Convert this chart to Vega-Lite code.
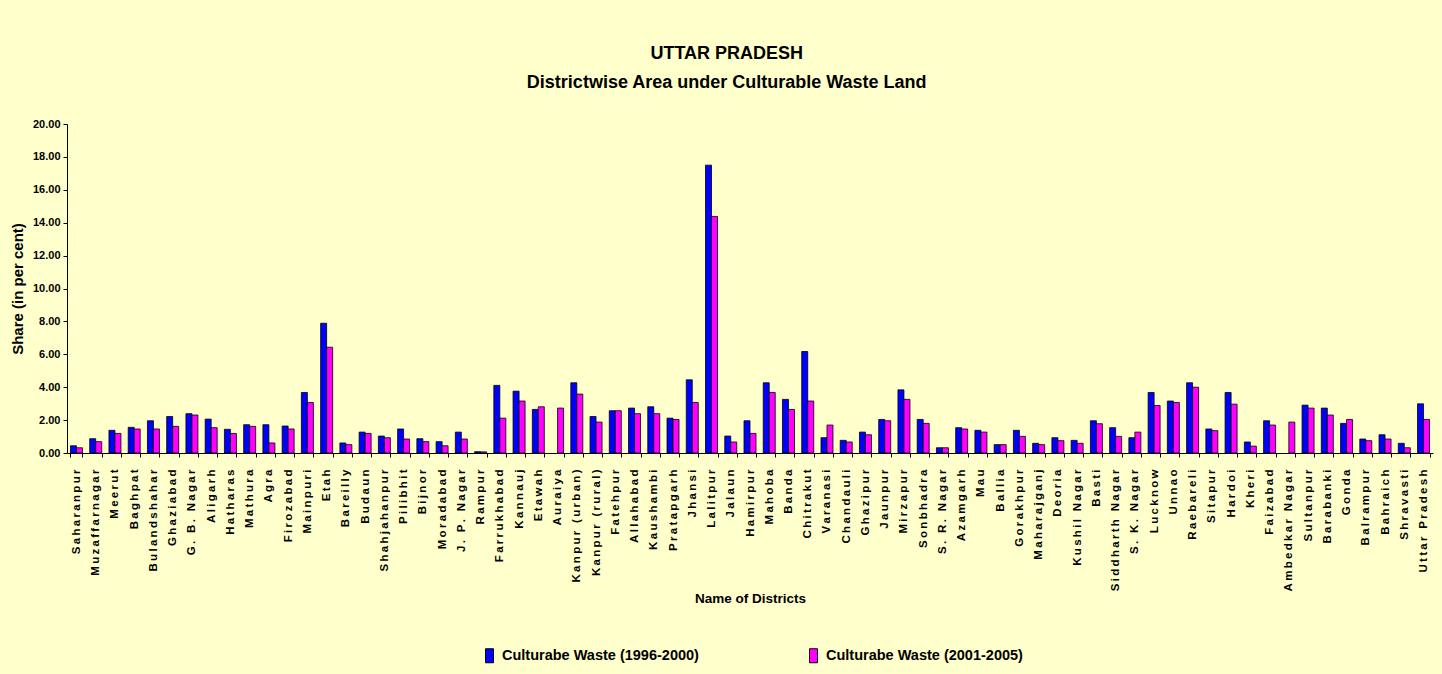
{
  "$schema": "https://vega.github.io/schema/vega-lite/v6.json",
  "width": 1366,
  "height": 329,
  "autosize": {"type": "none"},
  "padding": {"left": 67, "top": 124, "right": 9, "bottom": 221},
  "background": "#FFFFCC",
  "title": {
    "text": ["UTTAR PRADESH", "Districtwise Area under Culturable Waste Land"],
    "font": "Liberation Sans, Arial, sans-serif",
    "fontSize": 18,
    "fontWeight": "bold",
    "color": "#000000",
    "lineHeight": 29,
    "anchor": "middle",
    "frame": "bounds",
    "dx": 5,
    "offset": 26
  },
  "data": {
    "values": [
      {"District": "Saharanpur", "Culturabe Waste (1996-2000)": 0.44, "Culturabe Waste (2001-2005)": 0.32},
      {"District": "Muzaffarnagar", "Culturabe Waste (1996-2000)": 0.87, "Culturabe Waste (2001-2005)": 0.69},
      {"District": "Meerut", "Culturabe Waste (1996-2000)": 1.38, "Culturabe Waste (2001-2005)": 1.19},
      {"District": "Baghpat", "Culturabe Waste (1996-2000)": 1.56, "Culturabe Waste (2001-2005)": 1.46},
      {"District": "Bulandshahar", "Culturabe Waste (1996-2000)": 1.96, "Culturabe Waste (2001-2005)": 1.46},
      {"District": "Ghaziabad", "Culturabe Waste (1996-2000)": 2.22, "Culturabe Waste (2001-2005)": 1.62},
      {"District": "G. B. Nagar", "Culturabe Waste (1996-2000)": 2.39, "Culturabe Waste (2001-2005)": 2.31},
      {"District": "Aligarh", "Culturabe Waste (1996-2000)": 2.06, "Culturabe Waste (2001-2005)": 1.54},
      {"District": "Hatharas", "Culturabe Waste (1996-2000)": 1.44, "Culturabe Waste (2001-2005)": 1.19},
      {"District": "Mathura", "Culturabe Waste (1996-2000)": 1.72, "Culturabe Waste (2001-2005)": 1.62},
      {"District": "Agra", "Culturabe Waste (1996-2000)": 1.72, "Culturabe Waste (2001-2005)": 0.61},
      {"District": "Firozabad", "Culturabe Waste (1996-2000)": 1.64, "Culturabe Waste (2001-2005)": 1.46},
      {"District": "Mainpuri", "Culturabe Waste (1996-2000)": 3.68, "Culturabe Waste (2001-2005)": 3.07},
      {"District": "Etah", "Culturabe Waste (1996-2000)": 7.89, "Culturabe Waste (2001-2005)": 6.43},
      {"District": "Bareilly", "Culturabe Waste (1996-2000)": 0.61, "Culturabe Waste (2001-2005)": 0.51},
      {"District": "Budaun", "Culturabe Waste (1996-2000)": 1.27, "Culturabe Waste (2001-2005)": 1.19},
      {"District": "Shahjahanpur", "Culturabe Waste (1996-2000)": 1.03, "Culturabe Waste (2001-2005)": 0.93},
      {"District": "Pilibhit", "Culturabe Waste (1996-2000)": 1.46, "Culturabe Waste (2001-2005)": 0.85},
      {"District": "Bijnor", "Culturabe Waste (1996-2000)": 0.87, "Culturabe Waste (2001-2005)": 0.69},
      {"District": "Moradabad", "Culturabe Waste (1996-2000)": 0.69, "Culturabe Waste (2001-2005)": 0.44},
      {"District": "J. P. Nagar", "Culturabe Waste (1996-2000)": 1.27, "Culturabe Waste (2001-2005)": 0.85},
      {"District": "Rampur", "Culturabe Waste (1996-2000)": 0.08, "Culturabe Waste (2001-2005)": 0.07},
      {"District": "Farrukhabad", "Culturabe Waste (1996-2000)": 4.11, "Culturabe Waste (2001-2005)": 2.12},
      {"District": "Kannauj", "Culturabe Waste (1996-2000)": 3.76, "Culturabe Waste (2001-2005)": 3.16},
      {"District": "Etawah", "Culturabe Waste (1996-2000)": 2.65, "Culturabe Waste (2001-2005)": 2.81},
      {"District": "Auraiya", "Culturabe Waste (1996-2000)": null, "Culturabe Waste (2001-2005)": 2.73},
      {"District": "Kanpur (urban)", "Culturabe Waste (1996-2000)": 4.27, "Culturabe Waste (2001-2005)": 3.58},
      {"District": "Kanpur (rural)", "Culturabe Waste (1996-2000)": 2.22, "Culturabe Waste (2001-2005)": 1.88},
      {"District": "Fatehpur", "Culturabe Waste (1996-2000)": 2.57, "Culturabe Waste (2001-2005)": 2.57},
      {"District": "Allahabad", "Culturabe Waste (1996-2000)": 2.73, "Culturabe Waste (2001-2005)": 2.39},
      {"District": "Kaushambi", "Culturabe Waste (1996-2000)": 2.81, "Culturabe Waste (2001-2005)": 2.39},
      {"District": "Pratapgarh", "Culturabe Waste (1996-2000)": 2.12, "Culturabe Waste (2001-2005)": 2.04},
      {"District": "Jhansi", "Culturabe Waste (1996-2000)": 4.45, "Culturabe Waste (2001-2005)": 3.07},
      {"District": "Lalitpur", "Culturabe Waste (1996-2000)": 17.5, "Culturabe Waste (2001-2005)": 14.38},
      {"District": "Jalaun", "Culturabe Waste (1996-2000)": 1.03, "Culturabe Waste (2001-2005)": 0.67},
      {"District": "Hamirpur", "Culturabe Waste (1996-2000)": 1.96, "Culturabe Waste (2001-2005)": 1.19},
      {"District": "Mahoba", "Culturabe Waste (1996-2000)": 4.27, "Culturabe Waste (2001-2005)": 3.68},
      {"District": "Banda", "Culturabe Waste (1996-2000)": 3.26, "Culturabe Waste (2001-2005)": 2.65},
      {"District": "Chitrakut", "Culturabe Waste (1996-2000)": 6.17, "Culturabe Waste (2001-2005)": 3.16},
      {"District": "Varanasi", "Culturabe Waste (1996-2000)": 0.93, "Culturabe Waste (2001-2005)": 1.7},
      {"District": "Chandauli", "Culturabe Waste (1996-2000)": 0.77, "Culturabe Waste (2001-2005)": 0.67},
      {"District": "Ghazipur", "Culturabe Waste (1996-2000)": 1.27, "Culturabe Waste (2001-2005)": 1.11},
      {"District": "Jaunpur", "Culturabe Waste (1996-2000)": 2.04, "Culturabe Waste (2001-2005)": 1.96},
      {"District": "Mirzapur", "Culturabe Waste (1996-2000)": 3.84, "Culturabe Waste (2001-2005)": 3.26},
      {"District": "Sonbhadra", "Culturabe Waste (1996-2000)": 2.04, "Culturabe Waste (2001-2005)": 1.8},
      {"District": "S. R. Nagar", "Culturabe Waste (1996-2000)": 0.32, "Culturabe Waste (2001-2005)": 0.32},
      {"District": "Azamgarh", "Culturabe Waste (1996-2000)": 1.54, "Culturabe Waste (2001-2005)": 1.46},
      {"District": "Mau", "Culturabe Waste (1996-2000)": 1.38, "Culturabe Waste (2001-2005)": 1.27},
      {"District": "Ballia", "Culturabe Waste (1996-2000)": 0.51, "Culturabe Waste (2001-2005)": 0.51},
      {"District": "Gorakhpur", "Culturabe Waste (1996-2000)": 1.38, "Culturabe Waste (2001-2005)": 1.01},
      {"District": "Maharajganj", "Culturabe Waste (1996-2000)": 0.59, "Culturabe Waste (2001-2005)": 0.51},
      {"District": "Deoria", "Culturabe Waste (1996-2000)": 0.93, "Culturabe Waste (2001-2005)": 0.75},
      {"District": "Kushil Nagar", "Culturabe Waste (1996-2000)": 0.77, "Culturabe Waste (2001-2005)": 0.59},
      {"District": "Basti", "Culturabe Waste (1996-2000)": 1.96, "Culturabe Waste (2001-2005)": 1.78},
      {"District": "Siddharth Nagar", "Culturabe Waste (1996-2000)": 1.54, "Culturabe Waste (2001-2005)": 1.01},
      {"District": "S. K. Nagar", "Culturabe Waste (1996-2000)": 0.93, "Culturabe Waste (2001-2005)": 1.27},
      {"District": "Lucknow", "Culturabe Waste (1996-2000)": 3.68, "Culturabe Waste (2001-2005)": 2.89},
      {"District": "Unnao", "Culturabe Waste (1996-2000)": 3.16, "Culturabe Waste (2001-2005)": 3.07},
      {"District": "Raebareli", "Culturabe Waste (1996-2000)": 4.27, "Culturabe Waste (2001-2005)": 4.0},
      {"District": "Sitapur", "Culturabe Waste (1996-2000)": 1.46, "Culturabe Waste (2001-2005)": 1.36},
      {"District": "Hardoi", "Culturabe Waste (1996-2000)": 3.68, "Culturabe Waste (2001-2005)": 2.97},
      {"District": "Kheri", "Culturabe Waste (1996-2000)": 0.67, "Culturabe Waste (2001-2005)": 0.42},
      {"District": "Faizabad", "Culturabe Waste (1996-2000)": 1.96, "Culturabe Waste (2001-2005)": 1.7},
      {"District": "Ambedkar Nagar", "Culturabe Waste (1996-2000)": null, "Culturabe Waste (2001-2005)": 1.88},
      {"District": "Sultanpur", "Culturabe Waste (1996-2000)": 2.91, "Culturabe Waste (2001-2005)": 2.73},
      {"District": "Barabanki", "Culturabe Waste (1996-2000)": 2.73, "Culturabe Waste (2001-2005)": 2.31},
      {"District": "Gonda", "Culturabe Waste (1996-2000)": 1.8, "Culturabe Waste (2001-2005)": 2.04},
      {"District": "Balrampur", "Culturabe Waste (1996-2000)": 0.85, "Culturabe Waste (2001-2005)": 0.75},
      {"District": "Bahraich", "Culturabe Waste (1996-2000)": 1.11, "Culturabe Waste (2001-2005)": 0.85},
      {"District": "Shravasti", "Culturabe Waste (1996-2000)": 0.59, "Culturabe Waste (2001-2005)": 0.32},
      {"District": "Uttar Pradesh", "Culturabe Waste (1996-2000)": 2.99, "Culturabe Waste (2001-2005)": 2.04}
    ]
  },
  "transform": [
    {"fold": ["Culturabe Waste (1996-2000)", "Culturabe Waste (2001-2005)"], "as": ["Series", "Share"]}
  ],
  "mark": {"type": "bar", "stroke": "#000000", "strokeWidth": 0.8},
  "encoding": {
    "x": {
      "field": "District",
      "type": "nominal",
      "sort": null,
      "scale": {"paddingInner": 0.376, "paddingOuter": 0.18},
      "axis": {
        "title": "Name of Districts",
        "titleFont": "Liberation Sans, Arial, sans-serif",
        "titleFontSize": 13.5,
        "titleFontWeight": "bold",
        "titleColor": "#000000",
        "titleY": 145,
        "titleBaseline": "middle",
        "labelAngle": -90,
        "labelAlign": "right",
        "labelBaseline": "middle",
        "labelPadding": 12,
        "labelFont": "Liberation Sans, Arial, sans-serif",
        "labelFontSize": 11.5,
        "labelFontWeight": "bold",
        "labelColor": "#000000",
        "labelLimit": 0,
        "labelOverlap": false,
        "labelExpr": "join(split(datum.label, ''), '\u2009')",
        "tickBand": "extent",
        "tickSize": 4,
        "tickColor": "#000000",
        "domainColor": "#000000",
        "grid": false
      }
    },
    "xOffset": {
      "field": "Series",
      "type": "nominal",
      "scale": {"paddingInner": 0, "paddingOuter": 0}
    },
    "y": {
      "field": "Share",
      "type": "quantitative",
      "scale": {"domain": [0, 20], "nice": false},
      "axis": {
        "title": "Share (in per cent)",
        "titleFont": "Liberation Sans, Arial, sans-serif",
        "titleFontSize": 15,
        "titleFontWeight": "bold",
        "titleColor": "#000000",
        "titlePadding": 7,
        "values": [0, 2, 4, 6, 8, 10, 12, 14, 16, 18, 20],
        "format": ".2f",
        "labelFont": "Liberation Sans, Arial, sans-serif",
        "labelFontSize": 11,
        "labelFontWeight": "bold",
        "labelColor": "#000000",
        "labelPadding": 3,
        "tickSize": 4,
        "tickColor": "#000000",
        "domainColor": "#000000",
        "grid": false
      }
    },
    "fill": {
      "field": "Series",
      "type": "nominal",
      "scale": {"range": ["#0000FF", "#FF00FF"]},
      "legend": {
        "title": null,
        "orient": "none",
        "legendX": 415,
        "legendY": 524,
        "direction": "horizontal",
        "columns": 2,
        "columnPadding": 107,
        "padding": 0,
        "symbolType": "M-0.57,-1H0.57V1H-0.57Z",
        "symbolSize": 196,
        "symbolStrokeColor": "#000000",
        "symbolStrokeWidth": 1,
        "symbolOpacity": 1,
        "labelFont": "Liberation Sans, Arial, sans-serif",
        "labelFontSize": 14.5,
        "labelFontWeight": "bold",
        "labelColor": "#000000",
        "labelOffset": 5,
        "labelLimit": 0
      }
    }
  },
  "config": {
    "view": {"stroke": null},
    "axis": {"domainWidth": 1, "tickWidth": 1}
  }
}
